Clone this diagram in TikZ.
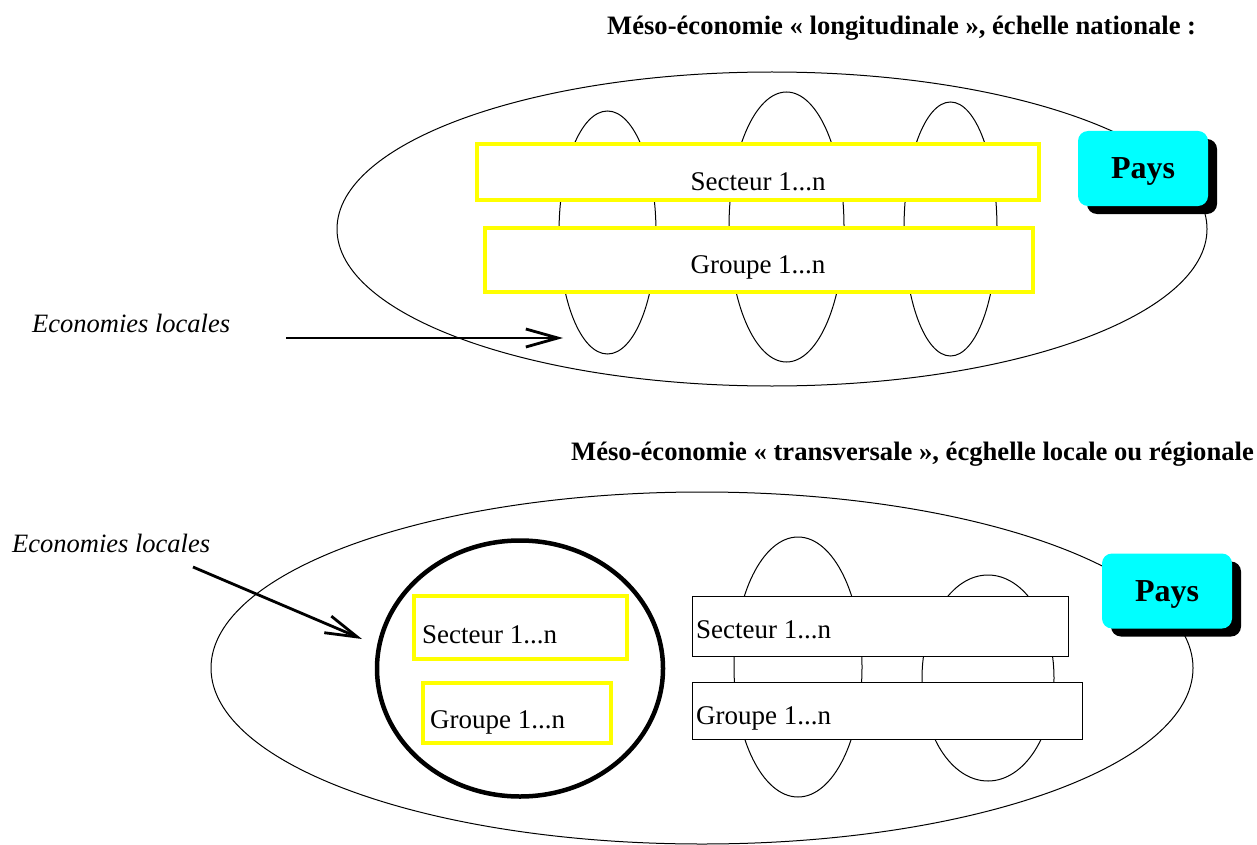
\documentclass[tikz,border=0pt]{standalone}
\usepackage{fontspec}
\setmainfont{Liberation Serif}
\usetikzlibrary{arrows.meta,shadows}
\definecolor{pyellow}{RGB}{255,255,0}
\definecolor{pcyan}{RGB}{0,255,255}
\begin{document}
\begin{tikzpicture}[x=1pt,y=-1pt,
  thinline/.style={draw=black,line width=1pt},
  ybox/.style={draw=pyellow,line width=4pt,fill=white,rectangle,inner sep=0pt},
  bbox/.style={draw=black,line width=1pt,fill=white,rectangle,inner sep=0pt},
  lbl/.style={inner sep=0pt,font=\fontsize{27}{32}\selectfont},
  ttl/.style={inner sep=0pt,font=\bfseries\fontsize{26.6}{31}\selectfont},
  ital/.style={inner sep=0pt,font=\itshape\fontsize{26.5}{31}\selectfont},
  paysbox/.style={rectangle,rounded corners=10pt,fill=pcyan,draw=none,minimum width=130pt,minimum height=75pt,
     drop shadow={shadow xshift=9pt,shadow yshift=-8pt,fill=black,opacity=1}},
  paystxt/.style={inner sep=0pt,font=\bfseries\fontsize{32}{36}\selectfont},
  arr/.style={line width=2.8pt,-{Straight Barb[length=32pt,width=18pt,line width=2.8pt]}}
]
\useasboundingbox (0,0) rectangle (1257,845);
\fill[white] (0,0) rectangle (1257,845);

% ---------- top part ----------
\node[ttl,anchor=base west] (t1) at (607,35) {Méso-économie « longitudinale », échelle nationale :};
\draw[thinline] (772,229) ellipse [x radius=435, y radius=157];
\draw[thinline] (607.5,232.5) ellipse [x radius=48.5, y radius=121.5];
\draw[thinline] (786.5,227) ellipse [x radius=57.5, y radius=135];
\draw[thinline] (950.5,229) ellipse [x radius=46.5, y radius=127];
\node[ybox,minimum width=562pt,minimum height=56pt] (s1) at (758,172) {};
\node[lbl,anchor=base] at (758,190) {Secteur 1...n};
\node[ybox,minimum width=548pt,minimum height=64pt] (g1) at (759,260) {};
\node[lbl,anchor=base] at (758,273) {Groupe 1...n};
\node[paysbox] (p1) at (1143,168.5) {};
\node[paystxt] at ([yshift=-3pt]p1.center) {Pays};
\node[ital,anchor=base west] (e1) at (32,332) {Economies locales};
\coordinate (a1s) at (286,338);
\coordinate (a1e) at (563,338);
\draw[arr] (a1s) -- (a1e);

% ---------- bottom part ----------
\node[ttl,anchor=base west] (t2) at (571,460) {Méso-économie « transversale », écghelle locale ou régionale};
\draw[thinline] (702,668) ellipse [x radius=491, y radius=176];
\node[ybox,minimum width=213pt,minimum height=63pt] (s2) at (520.5,627.5) {};
\node[lbl,anchor=base west] at (422,643) {Secteur 1...n};
\node[ybox,minimum width=188pt,minimum height=60pt] (g2) at (517,713) {};
\node[lbl,anchor=base west] at (430,728) {Groupe 1...n};
\draw[line width=4.5pt] (520,668.5) ellipse [x radius=143, y radius=128];
\draw[thinline] (798,667) ellipse [x radius=64, y radius=130];
\draw[thinline] (988,678) ellipse [x radius=66, y radius=103];
\node[bbox,minimum width=376pt,minimum height=60pt] (s3) at (880,626) {};
\node[lbl,anchor=base west] at (696,638) {Secteur 1...n};
\node[bbox,minimum width=390pt,minimum height=57pt] (g3) at (887,710.5) {};
\node[lbl,anchor=base west] at (696,724) {Groupe 1...n};
\node[paysbox] (p2) at (1167,591) {};
\node[paystxt] at ([yshift=-3pt]p2.center) {Pays};
\node[ital,anchor=base west] (e2) at (12,552) {Economies locales};
\coordinate (a2s) at (193,567);
\coordinate (a2e) at (362,639);
\draw[arr] (a2s) -- (a2e);
\end{tikzpicture}
\end{document}
